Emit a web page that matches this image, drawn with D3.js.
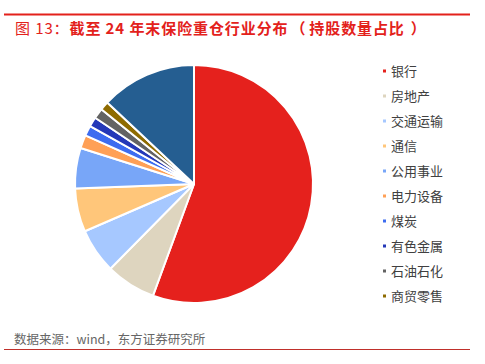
<!DOCTYPE html>
<html>
<head>
<meta charset="utf-8">
<script src="https://cdn.jsdelivr.net/npm/d3@7"></script>
<style>
  body { margin: 0; background: #fff; }
  svg { display: block; font-family: "Microsoft YaHei", "Noto Sans CJK SC", sans-serif; }
</style>
</head>
<body>
<svg id="chart" width="485" height="364"></svg>
<script>
// industry names, share of holdings (%), slice colours
const categories = ["银行", "房地产", "交通运输", "通信", "公用事业", "电力设备", "煤炭", "有色金属", "石油石化", "商贸零售", "其他"];
const shares = [55.6, 6.8, 6.1, 5.9, 5.5, 1.8, 1.4, 1.3, 1.4, 1.2, 13.0];
const colors = ["#E5211D", "#DED5BF", "#A6C8FF", "#FFC67A", "#78A6F8", "#FFA056", "#3D6CF0", "#2438B8", "#636363", "#8E6B00", "#255E91"];
const legendCount = 10; // "其他" is not listed in the legend

const svg = d3.select("#chart");

// top rule + title
svg.append("line")
    .attr("x1", 4).attr("x2", 470).attr("y1", 14.5).attr("y2", 14.5)
    .attr("stroke", "#E3211B").attr("stroke-width", 2);

const title = svg.append("text")
    .attr("x", 15).attr("y", 34)
    .attr("fill", "#E3211B")
    .attr("font-size", 15)
    .attr("letter-spacing", 0.9);
title.append("tspan").text("图 13：");
title.append("tspan").attr("font-weight", "bold").text("截至 24 年末保险重仓行业分布");
// the font squeezes the full-width parens, so pad them a little
title.append("tspan").attr("font-weight", "bold").attr("dx", 2).text("（");
title.append("tspan").attr("font-weight", "bold").attr("dx", 3).text("持股数量占比");
title.append("tspan").attr("font-weight", "bold").attr("dx", 6).text("）");

// pie
const pie = d3.pie().sort(null).value(d => d.value);
const arc = d3.arc().innerRadius(0).outerRadius(119);
const data = categories.map((c, i) => ({ name: c, value: shares[i], color: colors[i] }));

const g = svg.append("g").attr("transform", "translate(194,184)");
g.selectAll("path")
    .data(pie(data))
    .join("path")
    .attr("d", arc)
    .attr("fill", d => d.data.color)
    .attr("stroke", "#fff")
    .attr("stroke-width", 2)
    .attr("stroke-linejoin", "round");

// legend
const legend = svg.append("g").attr("transform", "translate(383,71)");
const rows = legend.selectAll("g")
    .data(data.slice(0, legendCount))
    .join("g")
    .attr("transform", (d, i) => `translate(0,${i * 25})`);
rows.append("rect")
    .attr("x", 0).attr("y", -1.5).attr("width", 3).attr("height", 3)
    .attr("fill", d => d.color);
rows.append("text")
    .attr("x", 8).attr("y", 0).attr("dy", "0.35em")
    .attr("font-size", 13).attr("fill", "#404040")
    .text(d => d.name);

// footer
svg.append("text")
    .attr("x", 14).attr("y", 344)
    .attr("font-size", 12.5).attr("fill", "#666")
    .text("数据来源：wind，东方证券研究所");
svg.append("line")
    .attr("x1", 4).attr("x2", 470).attr("y1", 349.5).attr("y2", 349.5)
    .attr("stroke", "#C0302B").attr("stroke-width", 1.2);
</script>
</body>
</html>
